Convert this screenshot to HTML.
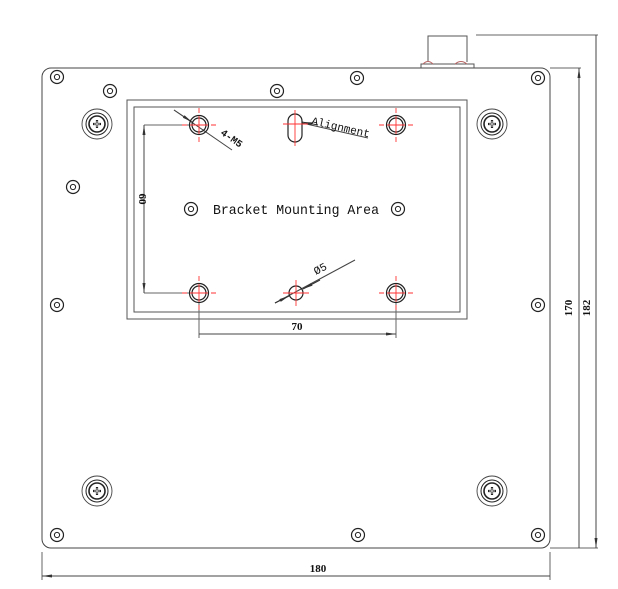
<!DOCTYPE html><html><head><style>body{margin:0;background:#fff}</style></head><body>
<svg width="618" height="584" viewBox="0 0 618 584" xmlns="http://www.w3.org/2000/svg" font-family="Liberation Mono, monospace">
<defs>
<g id="s"><circle r="6.5" fill="none" stroke="#222" stroke-width="1.2"/><circle r="2.6" fill="none" stroke="#222" stroke-width="1"/></g>
<g id="L"><circle r="15" fill="none" stroke="#444" stroke-width="0.9"/><circle r="11" fill="none" stroke="#222" stroke-width="1"/><circle r="8" fill="none" stroke="#222" stroke-width="1.6"/><path d="M-4 0H4M0 -4V4" stroke="#222" stroke-width="2.2"/><path d="M-3 0H3M0 -3V3" stroke="#fff" stroke-width="0.8"/></g>
<g id="m"><circle r="9.5" fill="none" stroke="#222" stroke-width="1.2"/><circle r="7" fill="none" stroke="#222" stroke-width="1.2"/><path d="M-17 0H-12M-9 0H9M12 0H17M0 -17V-12M0 -9V9M0 12V17" stroke="#f33" stroke-width="0.9"/></g>
<marker id="a" markerWidth="10" markerHeight="6" refX="10" refY="3" orient="auto-start-reverse"><path d="M0 1.5L10 3L0 4.5z" fill="#333"/></marker>
</defs>
<g fill="none" stroke="#444" stroke-width="1">
<rect x="42" y="68" width="508" height="480" rx="9"/>
<rect x="127" y="100" width="340" height="219" stroke="#555"/>
<rect x="134" y="107" width="326" height="205" stroke="#555"/>
<path d="M428 62V36H467V62M421 68V64H474V68" stroke="#555"/>
<path d="M476 35H598M550 68H581M550 548H598" stroke="#666"/>
<path d="M579 68V548M596 35V548" marker-start="url(#a)" marker-end="url(#a)"/>
<path d="M42 552V580M550 552V580M199 302V338M396 302V338" stroke="#666"/>
<path d="M42 576H550M199 334H396" marker-start="url(#a)" marker-end="url(#a)"/>
<path d="M190 125H144M190 293H144" stroke="#666"/>
<path d="M144 125V293" marker-start="url(#a)" marker-end="url(#a)"/>
<path d="M174 110L232 150" stroke="#444"/><path d="M174 110L192 122" marker-end="url(#a)"/>
<path d="M302 123L368 138"/>
<path d="M275 303L355 260"/>
</g>
<path d="M275 303L289 296" stroke="#333" marker-end="url(#a)"/><path d="M320 280L303 289" stroke="#333" marker-end="url(#a)"/>
<path d="M318 125L302 122" stroke="#333" marker-end="url(#a)"/>
<g fill="none" stroke="#b66" stroke-width="1"><path d="M423 64Q428 59 433 64M455 64Q461 59 467 64"/></g>
<use href="#s" x="57" y="77"/><use href="#s" x="110" y="91"/><use href="#s" x="277" y="91"/><use href="#s" x="357" y="78"/><use href="#s" x="538" y="78"/>
<use href="#s" x="73" y="187"/><use href="#s" x="57" y="305"/><use href="#s" x="538" y="305"/>
<use href="#s" x="57" y="535"/><use href="#s" x="358" y="535"/><use href="#s" x="538" y="535"/>
<use href="#s" x="191" y="209"/><use href="#s" x="398" y="209"/>
<use href="#L" x="97" y="124"/><use href="#L" x="492" y="124"/><use href="#L" x="97" y="491"/><use href="#L" x="492" y="491"/>
<use href="#m" x="199" y="125"/><use href="#m" x="396" y="125"/><use href="#m" x="199" y="293"/><use href="#m" x="396" y="293"/>
<rect x="288" y="114" width="14" height="28" rx="7" fill="none" stroke="#222" stroke-width="1.2"/>
<path d="M283 124H308M295 110V146" stroke="#f33" stroke-width="0.9"/>
<circle cx="296" cy="293" r="7" fill="none" stroke="#222" stroke-width="1.2"/>
<path d="M283 293H309M296 280V306" stroke="#f33" stroke-width="0.9"/>
<text x="213" y="214" font-size="14" fill="#111" textLength="166" lengthAdjust="spacingAndGlyphs">Bracket Mounting Area</text>
<text x="311" y="124" font-size="11" fill="#111" transform="rotate(13 311 124)">Alignment</text>
<text x="220" y="134" font-size="10" font-weight="bold" fill="#111" transform="rotate(35 220 134)">4-M5</text>
<text x="316" y="275" font-size="11" fill="#111" transform="rotate(-28 316 275)">Ø5</text>
<g font-family="Liberation Serif, serif" font-weight="bold" font-size="11" fill="#111">
<text x="318" y="572" text-anchor="middle">180</text>
<text x="297" y="330" text-anchor="middle">70</text>
<text transform="translate(139 199) rotate(90)" text-anchor="middle">60</text>
<text transform="translate(572 308) rotate(-90)" text-anchor="middle">170</text>
<text transform="translate(590 308) rotate(-90)" text-anchor="middle">182</text>
</g>
</svg></body></html>
